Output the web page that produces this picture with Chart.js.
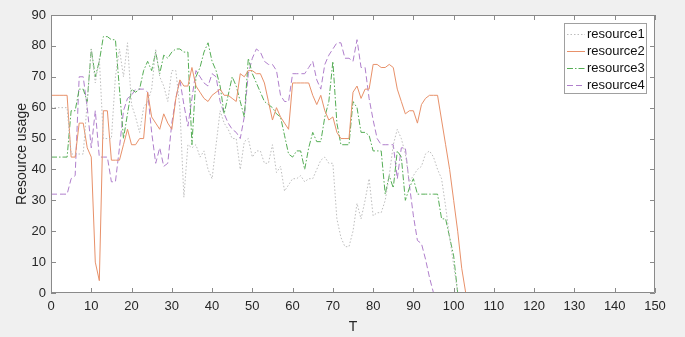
<!DOCTYPE html>
<html>
<head>
<meta charset="utf-8">
<script src="https://cdn.jsdelivr.net/npm/chart.js@4/dist/chart.umd.min.js"></script>
<style>
  html, body { margin: 0; padding: 0; background: #f0f0f0; }
  #c { display: block; }
</style>
</head>
<body>
<canvas id="c" width="685" height="337"></canvas>
<script>
// ---- data ----
const T = Array.from({length: 104}, (_, i) => i);
const seriesNames = ["resource1", "resource2", "resource3", "resource4"];
const xTicks = [0,10,20,30,40,50,60,70,80,90,100,110,120,130,140,150];
const yTicks = [0,10,20,30,40,50,60,70,80,90];

const resource1 = [60,60,60,60,60,45,45,45,45,62,79,68,76,50,50,50,70,79,70,81,
  61,57,52,60,62,66,79,70,67,62,72,72,60,31,48,47,48,44,46,40,
  37,48,59,55,53,50,50,40,49,50,44,46,46,42,42,48,39,41,33,35,
  37,37,38,36,37,37,40,43,44,42,42,24,18,15,15,20,29,24,30,37,
  25,26,26,30,38,48,53,50,45,36,38,40,41,45,46,44,40,37,28,18,
  9,0,0,0];
const resource2 = [64,64,64,64,64,44,44,55,55,47,44,10,4,59,59,43,43,43,48,53,
  48,48,50,50,65,57,55,53,58,55,53,63,69,67,67,73,67,65,63,62,
  64,65,66,64,64,63,62,71,70,72,72,71,71,68,62,56,60,57,55,53,
  68,68,68,68,68,64,61,64,59,56,57,52,50,50,50,65,67,63,66,66,
  74,74,73,73,74,73,66,62,58,59,59,55,61,63,64,64,64,56,48,40,
  30,20,8,0];
const resource3 = [44,44,44,44,44,59,59,66,66,62,79,70,75,83,83,82,82,66,50,58,
  66,65,66,72,75,72,78,71,77,76,78,79,79,78,78,48,70,73,78,81,
  75,72,67,58,64,70,67,62,57,76,71,68,65,62,61,60,58,57,51,45,
  44,46,46,40,47,52,49,49,57,62,75,55,48,48,48,62,60,52,52,51,
  46,46,46,32,38,34,46,44,30,34,37,32,32,32,32,32,32,24,24,18,
  12,0,0,0];
const resource4 = [32,32,32,32,32,37,38,70,70,60,47,59,44,44,44,36,36,47,59,63,
  64,66,66,66,65,52,42,47,41,42,55,63,69,61,54,63,72,70,68,67,
  71,70,62,58,55,53,52,50,57,71,76,79,78,75,74,74,72,64,62,62,
  71,71,71,71,73,75,69,66,74,77,79,81,81,76,76,75,82,73,73,63,
  56,50,48,48,48,48,37,47,47,35,25,17,16,11,5,0,0,0,0,0,
  0,0,0,0];

const colors = ["#bdbdbd", "#e8916a", "#55ad55", "#b07fcc"];
const dashes = [[1.5, 2], [], [6, 2, 1.5, 2], [6, 3]];
const seriesValues = [resource1, resource2, resource3, resource4];

const AXIS = "#8a8a8a";
const FONT = "'Liberation Sans', Arial, Helvetica, sans-serif";

const datasets = seriesNames.map((name, k) => ({
  label: name,
  data: T.map((t, i) => ({x: t, y: seriesValues[k][i]})),
  borderColor: colors[k],
  borderDash: dashes[k],
  borderWidth: 1,
  pointRadius: 0,
  fill: false,
  tension: 0
}));

const framePlugin = {
  id: "frame",
  beforeDraw(chart) {
    const {ctx, chartArea: a} = chart;
    ctx.save();
    ctx.fillStyle = "#f0f0f0";
    ctx.fillRect(0, 0, chart.width, chart.height);
    ctx.fillStyle = "#ffffff";
    ctx.fillRect(a.left, a.top, a.right - a.left, a.bottom - a.top);
    ctx.restore();
  },
  afterDraw(chart) {
    const {ctx, chartArea: a, scales} = chart;
    ctx.save();
    ctx.strokeStyle = AXIS;
    ctx.lineWidth = 1;
    ctx.beginPath();
    ctx.rect(a.left + 0.5, a.top + 0.5, a.right - a.left - 1, a.bottom - a.top - 1);
    ctx.stroke();
    const tl = 5;
    ctx.beginPath();
    xTicks.forEach(v => {
      const x = Math.round(scales.x.getPixelForValue(v)) + 0.5;
      ctx.moveTo(x, a.bottom); ctx.lineTo(x, a.bottom - tl);
      ctx.moveTo(x, a.top); ctx.lineTo(x, a.top + tl);
    });
    yTicks.forEach(v => {
      const y = Math.round(scales.y.getPixelForValue(v)) + 0.5;
      ctx.moveTo(a.left, y); ctx.lineTo(a.left + tl, y);
      ctx.moveTo(a.right, y); ctx.lineTo(a.right - tl, y);
    });
    ctx.stroke();

    // legend box (top-right, inside the axes)
    const bx = 564, by = 23, bw = 82, bh = 70;
    ctx.fillStyle = "#ffffff";
    ctx.fillRect(bx, by, bw, bh);
    ctx.strokeStyle = "#a0a0a0";
    ctx.strokeRect(bx + 0.5, by + 0.5, bw, bh);
    ctx.font = "13px " + FONT;
    ctx.textBaseline = "middle";
    ctx.textAlign = "left";
    chart.data.datasets.forEach((ds, i) => {
      const y = by + 11 + i * 17 + 0.5;
      ctx.strokeStyle = ds.borderColor;
      ctx.setLineDash(ds.borderDash);
      ctx.beginPath();
      ctx.moveTo(567, y); ctx.lineTo(585, y);
      ctx.stroke();
      ctx.setLineDash([]);
      ctx.fillStyle = "#111111";
      ctx.fillText(ds.label, 587, y);
    });
    ctx.restore();
  }
};

new Chart(document.getElementById("c"), {
  type: "line",
  data: { datasets },
  options: {
    responsive: false,
    animation: false,
    devicePixelRatio: 1,
    layout: { padding: { top: 15, right: 30, left: 0, bottom: 0 } },
    plugins: { legend: { display: false }, tooltip: { enabled: false } },
    scales: {
      x: {
        type: "linear", min: 0, max: 150,
        afterFit(s) { s.height = 44; },
        afterBuildTicks(s) { s.ticks = xTicks.map(v => ({value: v})); },
        grid: { display: false, drawTicks: false, tickLength: 0 },
        border: { display: false },
        ticks: { color: "#262626", padding: 6, maxRotation: 0, autoSkip: false,
                 font: { family: FONT, size: 13 } },
        title: { display: true, text: "T", color: "#262626",
                 font: { family: FONT, size: 14 }, padding: { top: 0, bottom: 1 } }
      },
      y: {
        type: "linear", min: 0, max: 90,
        afterFit(s) { s.width = 51; },
        afterBuildTicks(s) { s.ticks = yTicks.map(v => ({value: v})); },
        grid: { display: false, drawTicks: false, tickLength: 0 },
        border: { display: false },
        ticks: { color: "#262626", padding: 5, autoSkip: false,
                 font: { family: FONT, size: 13 } },
        title: { display: true, text: "Resource usage", color: "#262626",
                 font: { family: FONT, size: 14 }, padding: { top: 14, bottom: 0 } }
      }
    }
  },
  plugins: [framePlugin]
});
</script>
</body>
</html>
